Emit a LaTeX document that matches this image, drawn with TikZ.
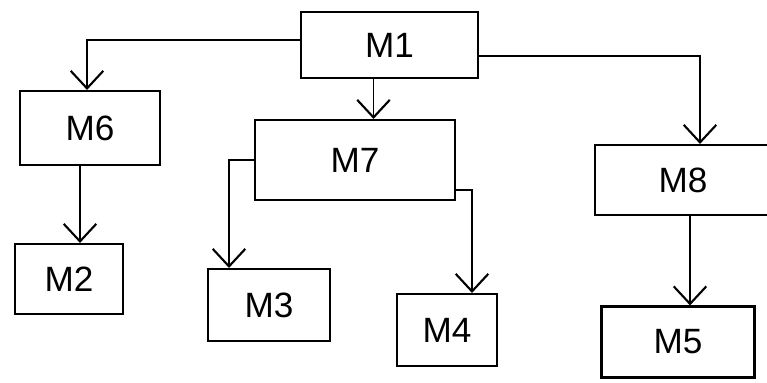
\documentclass[tikz,border=0pt]{standalone}
\usepackage{fontspec}
\setmainfont{Liberation Sans}
\usetikzlibrary{arrows.meta}

\begin{document}
\begin{tikzpicture}[thick]
        % Define block styles
        \tikzstyle{module} = [rectangle, draw=black, line width=1.2pt, font=\fontsize{20}{24}\selectfont, text centered, inner sep=0pt]
        \tikzstyle{line} = [draw, line width=1pt, -{Straight Barb[length=3.5mm, width=6.5mm, line width=1.2pt]}]

        \useasboundingbox (0,0) rectangle (15.34,-7.64);

        % Define nodes
        \node [module, minimum width=3.54cm, minimum height=1.32cm] (M1) at (7.79,-0.90) {M1};
        \node [module, minimum width=2.80cm, minimum height=1.48cm] (M6) at (1.80,-2.56) {M6};
        \node [module, minimum width=4.00cm, minimum height=1.60cm] (M7) at (7.10,-3.20) {M7};
        \node [module, minimum width=3.52cm, minimum height=1.40cm] (M8) at (13.66,-3.60) {M8};
        \node [module, minimum width=2.16cm, minimum height=1.40cm] (M2) at (1.38,-5.58) {M2};
        \node [module, minimum width=2.44cm, minimum height=1.44cm] (M3) at (5.38,-6.10) {M3};
        \node [module, minimum width=2.00cm, minimum height=1.44cm] (M4) at (8.94,-6.60) {M4};
        \node [module, minimum width=3.06cm, minimum height=1.42cm] (M5) at (13.56,-6.84) {M5};

        % Connect nodes with paths
        \draw[line] ([yshift=0.1cm]M1.west) -| ([xshift=-0.06cm]M6.north);
        \draw[line] ([yshift=-0.22cm]M1.east) -| ([xshift=0.34cm]M8.north);
        \draw[line] ([xshift=-0.32cm]M1.south) -- ([xshift=-0.32cm]M1.south |- M7.north);
        \draw[line] (M7.west) -| ([xshift=-0.8cm]M3.north);
        \draw[line] ([yshift=-0.6cm]M7.east) -| ([xshift=0.5cm]M4.north);
        \draw[line] ([xshift=-0.2cm]M6.south) -- ([xshift=-0.2cm]M6.south |- M2.north);
        \draw[line] ([xshift=0.14cm]M8.south) -- ([xshift=0.14cm]M8.south |- M5.north);

    \end{tikzpicture}
\end{document}
